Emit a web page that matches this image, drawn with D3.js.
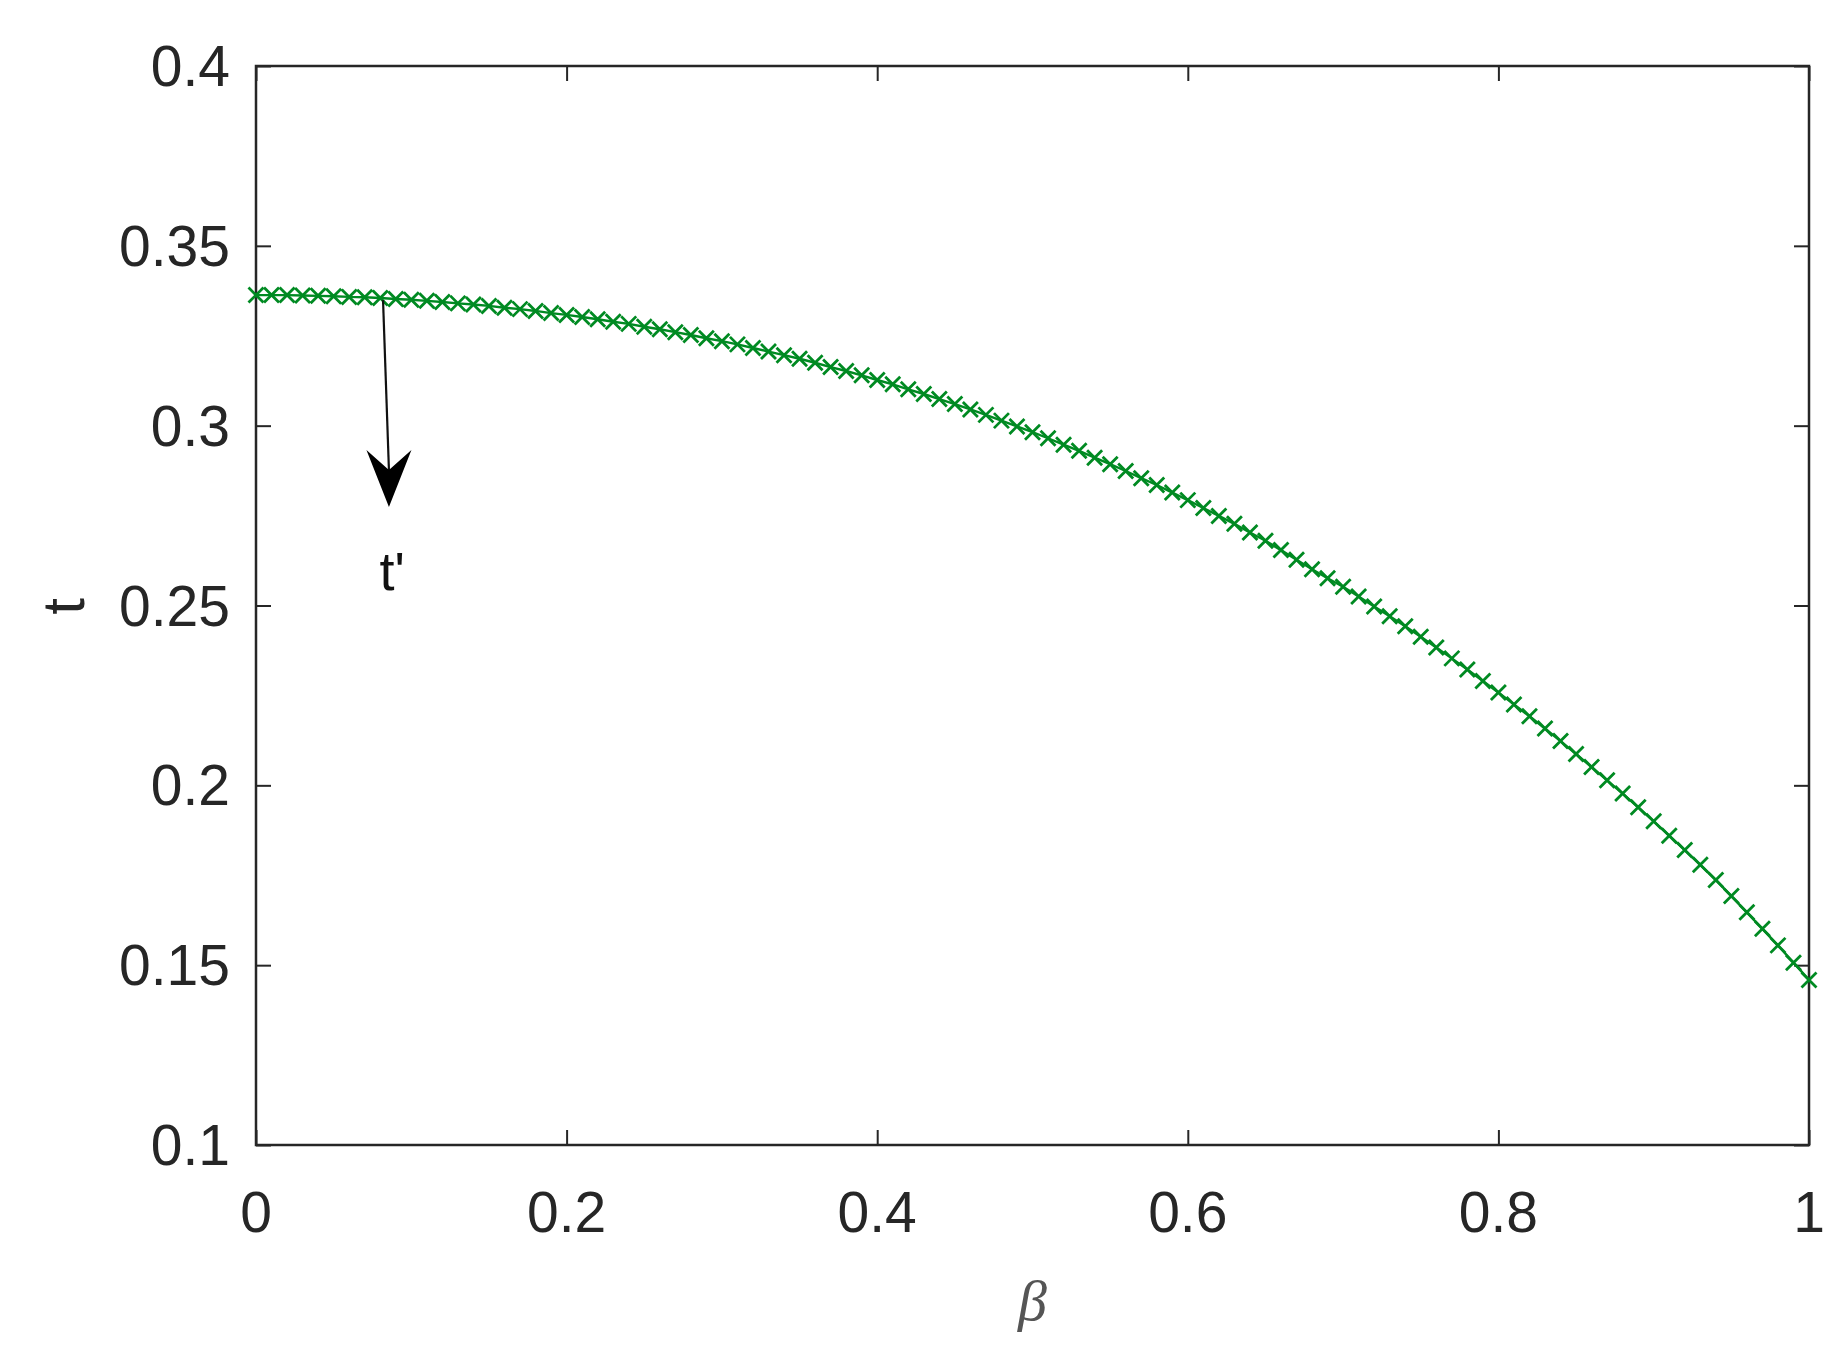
<!DOCTYPE html>
<html>
<head>
<meta charset="utf-8">
<script src="https://cdn.jsdelivr.net/npm/d3@7"></script>
<style>
  html, body { margin: 0; padding: 0; background: #fff; }
  svg { display: block; }
</style>
</head>
<body>
<svg id="chart" width="1840" height="1351"></svg>
<script>
// ---- data ----
const betaValues = [
  0.00,0.01,0.02,0.03,0.04,0.05,0.06,0.07,0.08,0.09,
  0.10,0.11,0.12,0.13,0.14,0.15,0.16,0.17,0.18,0.19,
  0.20,0.21,0.22,0.23,0.24,0.25,0.26,0.27,0.28,0.29,
  0.30,0.31,0.32,0.33,0.34,0.35,0.36,0.37,0.38,0.39,
  0.40,0.41,0.42,0.43,0.44,0.45,0.46,0.47,0.48,0.49,
  0.50,0.51,0.52,0.53,0.54,0.55,0.56,0.57,0.58,0.59,
  0.60,0.61,0.62,0.63,0.64,0.65,0.66,0.67,0.68,0.69,
  0.70,0.71,0.72,0.73,0.74,0.75,0.76,0.77,0.78,0.79,
  0.80,0.81,0.82,0.83,0.84,0.85,0.86,0.87,0.88,0.89,
  0.90,0.91,0.92,0.93,0.94,0.95,0.96,0.97,0.98,0.99,
  1.00
];
const tValues = [
  0.3363,0.3363,0.3363,0.3362,0.3361,0.3360,0.3358,0.3357,0.3355,0.3352,
  0.3350,0.3347,0.3344,0.3340,0.3337,0.3333,0.3328,0.3324,0.3319,0.3313,
  0.3308,0.3302,0.3296,0.3289,0.3283,0.3275,0.3268,0.3260,0.3252,0.3243,
  0.3235,0.3226,0.3216,0.3206,0.3196,0.3186,0.3175,0.3163,0.3152,0.3140,
  0.3127,0.3115,0.3101,0.3088,0.3074,0.3060,0.3045,0.3030,0.3014,0.2998,
  0.2982,0.2965,0.2947,0.2930,0.2911,0.2893,0.2874,0.2854,0.2835,0.2814,
  0.2793,0.2771,0.2749,0.2727,0.2703,0.2680,0.2654,0.2627,0.2601,0.2576,
  0.2552,0.2525,0.2497,0.2470,0.2442,0.2413,0.2383,0.2353,0.2322,0.2290,
  0.2258,0.2225,0.2192,0.2158,0.2123,0.2087,0.2051,0.2014,0.1977,0.1939,
  0.1900,0.1860,0.1820,0.1779,0.1737,0.1692,0.1647,0.1601,0.1555,0.1507,
  0.1459
];
const xTicks = [0, 0.2, 0.4, 0.6, 0.8, 1];
const xTickLabels = ["0", "0.2", "0.4", "0.6", "0.8", "1"];
const yTicks = [0.1, 0.15, 0.2, 0.25, 0.3, 0.35, 0.4];
const yTickLabels = ["0.1", "0.15", "0.2", "0.25", "0.3", "0.35", "0.4"];
const xLabel = "β";
const yLabel = "t";
const arrowTail = [0.0818, 0.3349];
const arrowTip = [0.0856, 0.2774];
const arrowText = "t'";
const arrowTextPos = [0.0876, 0.2543];

// ---- layout ----
const svg = d3.select("#chart");
const L = 256, R = 1809, T = 66, B = 1145;
const x = d3.scaleLinear().domain([0, 1]).range([L, R]);
const y = d3.scaleLinear().domain([0.1, 0.4]).range([B, T]);
const axisColor = "#262626";
const green = "#008a22";
const tickLen = 15;
const fontFamily = "'Liberation Sans', Arial, Helvetica, sans-serif";

// axes (ticks inward on all four sides)
function styleAxis(g) {
  g.select(".domain").remove();
  g.selectAll(".tick line").attr("stroke", axisColor).attr("stroke-width", 2);
}
svg.append("g").attr("transform", `translate(0,${B})`)
  .call(d3.axisBottom(x).tickValues(xTicks).tickSize(-tickLen).tickFormat(() => ""))
  .call(styleAxis);
svg.append("g").attr("transform", `translate(0,${T})`)
  .call(d3.axisTop(x).tickValues(xTicks).tickSize(-tickLen).tickFormat(() => ""))
  .call(styleAxis);
svg.append("g").attr("transform", `translate(${L},0)`)
  .call(d3.axisLeft(y).tickValues(yTicks).tickSize(-tickLen).tickFormat(() => ""))
  .call(styleAxis);
svg.append("g").attr("transform", `translate(${R},0)`)
  .call(d3.axisRight(y).tickValues(yTicks).tickSize(-tickLen).tickFormat(() => ""))
  .call(styleAxis);

// box
svg.append("rect")
  .attr("x", L).attr("y", T).attr("width", R - L).attr("height", B - T)
  .attr("fill", "none").attr("stroke", axisColor).attr("stroke-width", 2.5);

// tick labels
svg.append("g").selectAll("text").data(xTicks).join("text")
  .attr("x", d => x(d)).attr("y", 1232)
  .attr("text-anchor", "middle")
  .attr("font-family", fontFamily).attr("font-size", 57).attr("fill", axisColor)
  .text((d, i) => xTickLabels[i]);
svg.append("g").selectAll("text").data(yTicks).join("text")
  .attr("x", 230).attr("y", d => y(d) + 20)
  .attr("text-anchor", "end")
  .attr("font-family", fontFamily).attr("font-size", 57).attr("fill", axisColor)
  .text((d, i) => yTickLabels[i]);

// axis labels
svg.append("text")
  .attr("transform", `translate(84,${(T + B) / 2 + 1}) rotate(-90)`)
  .attr("text-anchor", "middle")
  .attr("font-family", fontFamily).attr("font-size", 60).attr("fill", axisColor)
  .text(yLabel);
svg.append("text")
  .attr("x", (L + R) / 2).attr("y", 1320)
  .attr("text-anchor", "middle")
  .attr("font-family", "'Liberation Serif', 'DejaVu Serif', serif")
  .attr("font-style", "italic")
  .attr("font-size", 58).attr("fill", "#555")
  .text(xLabel);

// data line
const pts = betaValues.map((b, i) => [b, tValues[i]]);
svg.append("path")
  .datum(pts)
  .attr("fill", "none").attr("stroke", green).attr("stroke-width", 2.4)
  .attr("d", d3.line().x(d => x(d[0])).y(d => y(d[1])));

// x markers
const ms = 7.5;
svg.append("g").selectAll("path").data(pts).join("path")
  .attr("d", d => {
    const cx = x(d[0]), cy = y(d[1]);
    return `M${cx - ms},${cy - ms}L${cx + ms},${cy + ms}M${cx - ms},${cy + ms}L${cx + ms},${cy - ms}`;
  })
  .attr("stroke", green).attr("stroke-width", 2.8).attr("fill", "none");

// annotation arrow
const tx = x(arrowTip[0]), ty = y(arrowTip[1]);
const sx = x(arrowTail[0]), sy = y(arrowTail[1]);
const headLen = 57, headHalf = 22.5, notch = 37;
svg.append("line")
  .attr("x1", sx).attr("y1", sy).attr("x2", tx).attr("y2", ty - notch)
  .attr("stroke", "#111").attr("stroke-width", 2.2);
svg.append("path")
  .attr("d", `M${tx},${ty}L${tx - headHalf},${ty - headLen}L${tx},${ty - notch}L${tx + headHalf},${ty - headLen}Z`)
  .attr("fill", "#000");
svg.append("text")
  .attr("x", x(arrowTextPos[0])).attr("y", y(arrowTextPos[1]))
  .attr("text-anchor", "middle")
  .attr("font-family", fontFamily).attr("font-size", 54).attr("fill", "#111")
  .text(arrowText);
</script>
</body>
</html>
